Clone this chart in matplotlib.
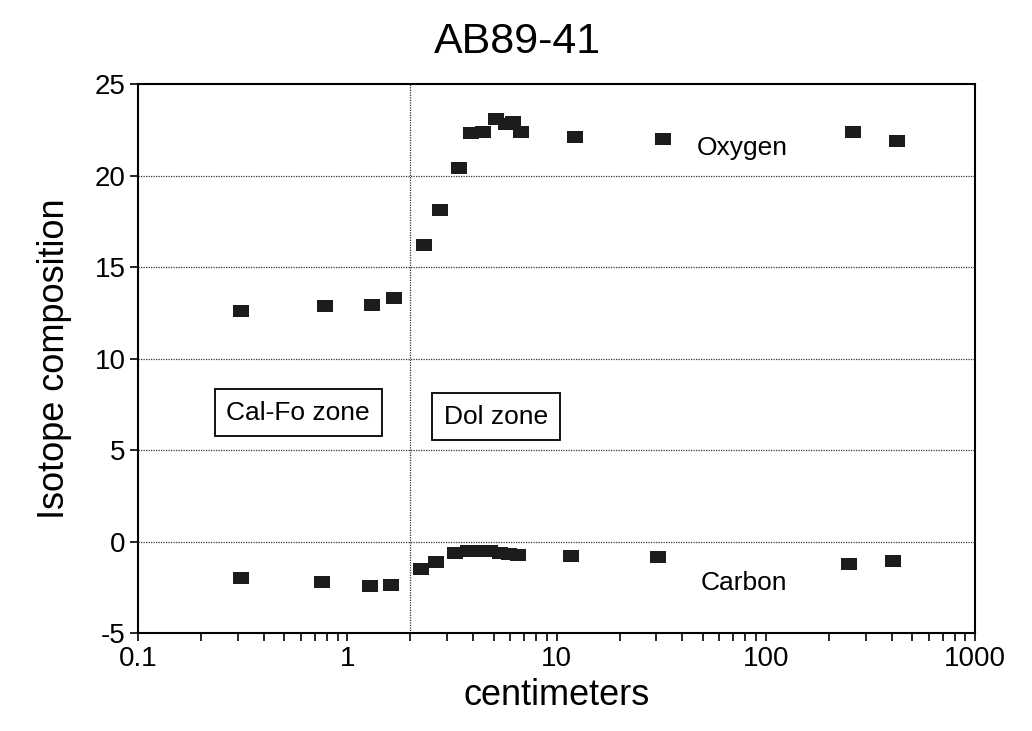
import matplotlib
matplotlib.use("Agg")
import matplotlib.pyplot as plt
from matplotlib.ticker import LogLocator, FixedLocator, NullFormatter, FuncFormatter

plt.rcParams['font.family'] = ['Liberation Sans', 'DejaVu Sans']
plt.rcParams['axes.unicode_minus'] = False

# distance from contact (cm) and isotope values
oxygen_cm = [0.31, 0.78, 1.31, 1.67, 2.32, 2.77, 3.41, 3.92, 4.46, 5.16, 5.76, 6.2, 6.8, 12.2, 32.2, 262, 424]
oxygen = [12.6, 12.85, 12.95, 13.3, 16.2, 18.1, 20.4, 22.3, 22.4, 23.1, 22.8, 22.9, 22.4, 22.1, 22.0, 22.4, 21.9]

carbon_cm = [0.31, 0.76, 1.28, 1.62, 2.24, 2.65, 3.26, 3.78, 4.2, 4.8, 5.35, 5.96, 6.56, 11.7, 30.5, 250, 405]
carbon = [-2.0, -2.2, -2.45, -2.4, -1.5, -1.1, -0.65, -0.5, -0.5, -0.5, -0.6, -0.7, -0.75, -0.8, -0.85, -1.2, -1.05]

zone_boundary = 2.0

# slightly wide square marker
box = [(-0.5, -0.38), (0.5, -0.38), (0.5, 0.38), (-0.5, 0.38), (-0.5, -0.38)]

fig = plt.figure(figsize=(10.32, 7.31), dpi=100)
ax = fig.add_axes([0.1337, 0.134, 0.8111, 0.751])

ax.plot(oxygen_cm, oxygen, linestyle='none', marker=box, markersize=11.5,
        color='#1c1c1c', markeredgewidth=0)
ax.plot(carbon_cm, carbon, linestyle='none', marker=box, markersize=11.5,
        color='#1c1c1c', markeredgewidth=0)

ax.set_xscale('log')
ax.set_xlim(0.1, 1000)
ax.set_ylim(-5, 25)

ax.xaxis.set_major_locator(FixedLocator([0.1, 1, 10, 100, 1000]))
ax.xaxis.set_major_formatter(FuncFormatter(lambda v, p: ('%g' % v)))
ax.xaxis.set_minor_locator(LogLocator(base=10, subs=range(2, 10)))
ax.xaxis.set_minor_formatter(NullFormatter())
ax.set_yticks([-5, 0, 5, 10, 15, 20, 25])

ax.tick_params(axis='both', which='major', direction='out', length=6, width=1.2,
               labelsize=20, colors='black', pad=3)
ax.tick_params(axis='x', which='minor', direction='out', length=6, width=1.2)

for s in ax.spines.values():
    s.set_linewidth(1.5)
    s.set_color('black')

for y in [0, 5, 10, 15, 20]:
    ax.axhline(y, color='#333333', linestyle=(0, (1, 1)), linewidth=0.9, zorder=0)
ax.axvline(zone_boundary, color='#333333', linestyle=(0, (1, 1)), linewidth=0.9, zorder=0)

ax.text(76.9, 21.5, 'Oxygen', fontsize=19, ha='center', va='center')
ax.text(78.5, -2.24, 'Carbon', fontsize=19, ha='center', va='center')

boxprops = dict(boxstyle='square,pad=0.45', facecolor='white', edgecolor='black', linewidth=1.3)
ax.text(0.583, 7.05, 'Cal-Fo zone', fontsize=19, ha='center', va='center', bbox=boxprops)
ax.text(5.16, 6.83, 'Dol zone', fontsize=19, ha='center', va='center', bbox=boxprops)

ax.set_xlabel('centimeters', fontsize=26, labelpad=5)
ax.set_ylabel('Isotope composition', fontsize=26, labelpad=16)
fig.text(0.501, 0.942, 'AB89-41', fontsize=31, ha='center', va='center')

fig.savefig('out.png', dpi=100)
